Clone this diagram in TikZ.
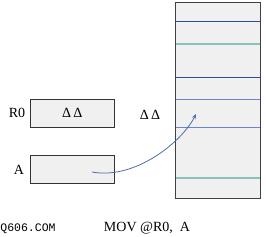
\documentclass[tikz,border=0pt]{standalone}
\usepackage{fontspec}
\setmainfont{Liberation Serif}
\setmonofont{Liberation Mono}
\usetikzlibrary{arrows.meta}
\definecolor{boxfill}{HTML}{F0F0F0}
\definecolor{darkline}{HTML}{2C4C9C}
\definecolor{tealline}{HTML}{86C2BA}
\definecolor{midline}{HTML}{6A82D2}
\definecolor{arrowblue}{HTML}{4A6FA8}

\begin{document}
\begin{tikzpicture}[x=1pt, y=-1pt,
  every node/.style={inner sep=0pt, font=\fontsize{14}{16}\selectfont}
]
\useasboundingbox (0,0) rectangle (266,237);

% Box styles
\tikzset{
  regbox/.style={
    rectangle, draw=black!80, fill=boxfill, line width=0.9pt,
    minimum width=84pt, minimum height=28pt
  },
  membox/.style={
    rectangle, fill=boxfill,
    minimum width=84pt, minimum height=195pt
  },
  cell/.style={line width=1pt}
}

% ---- Registers ----
\node[regbox] (R0) at (72.3, 113.3) {Δ\,Δ};
\node[regbox] (A)  at (72.3, 169.3) {};
\node (labR0) at (17, 113) {R0};
\node (labA)  at (19, 170) {A};

% ---- Memory ----
\node[membox] (Mem) at (218, 100.5) {};
\draw[cell, draw=darkline]  (176,21.3)  -- (260,21.3);
\draw[cell, draw=tealline, line width=1.8pt] (176,43.7) -- (260,43.7);
\draw[cell, draw=darkline]  (176,77.3)  -- (260,77.3);
\draw[cell, draw=midline]   (176,99.3)  -- (260,99.3);
\draw[cell, draw=midline]   (176,127.3) -- (260,127.3);
\draw[cell, draw=tealline, line width=1.8pt] (176,178) -- (260,178);
\draw[draw=black!75, line width=1pt] (Mem.north west) rectangle (Mem.south east);

\node (Val) at (150, 115) {Δ\,Δ};

% ---- Arrow ----
\coordinate (From) at (92, 172);
\coordinate (To)   at (196, 114);
\draw[arrowblue, line width=0.8pt, -{Stealth[length=5pt, width=4pt]}]
  (From) .. controls (135, 180) and (182, 142) .. (To);

% ---- Caption ----
\node (Cap) at (147, 228) {MOV @R0,\ \ A};
\node[font=\ttfamily\fontsize{11.5}{13}\selectfont] (Mark) at (28, 229) {Q606.COM};

\end{tikzpicture}
\end{document}
